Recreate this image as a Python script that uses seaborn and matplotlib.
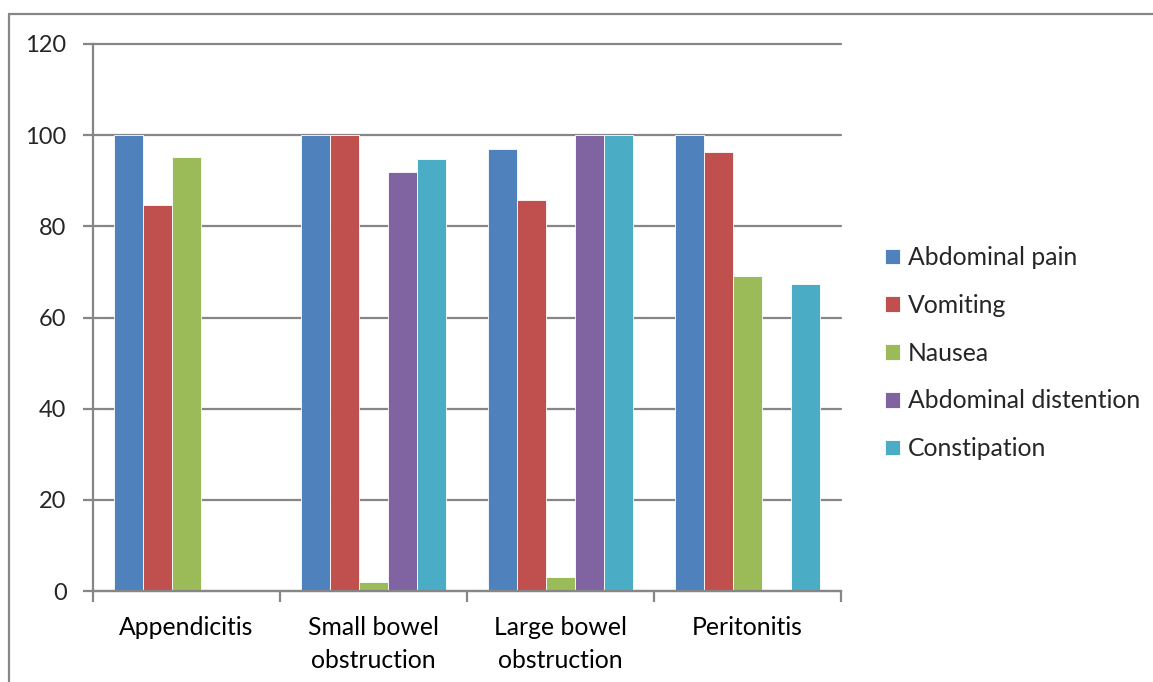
import matplotlib
matplotlib.use("Agg")
import matplotlib.pyplot as plt
from matplotlib.lines import Line2D
import seaborn as sns
import pandas as pd

# Symptom frequency (%) by diagnosis
diagnoses = ["Appendicitis", "Small bowel\nobstruction", "Large bowel\nobstruction", "Peritonitis"]
symptoms = ["Abdominal pain", "Vomiting", "Nausea", "Abdominal distention", "Constipation"]
abdominal_pain = [100, 100, 97, 100]
vomiting = [84.6, 100, 85.7, 96.2]
nausea = [95.3, 2, 3, 69.2]
abdominal_distention = [0, 92, 100, 0]
constipation = [0, 94.8, 100, 67.3]
y_ticks = [0, 20, 40, 60, 80, 100, 120]

palette = ["#4F81BD", "#C0504D", "#9BBB59", "#8064A2", "#4BACC6"]

series = [abdominal_pain, vomiting, nausea, abdominal_distention, constipation]
rows = []
for name, vals in zip(symptoms, series):
    for diag, v in zip(diagnoses, vals):
        rows.append({"Diagnosis": diag, "Symptom": name, "Percent": v})
df = pd.DataFrame(rows)

sns.set_style("white")
plt.rcParams["font.family"] = ["Lato", "DejaVu Sans"]

fig = plt.figure(figsize=(11.53, 6.82), dpi=100)
ax = fig.add_axes([93 / 1153, 1 - 591 / 682, (841 - 93) / 1153, (591 - 44) / 682])

sns.barplot(data=df, x="Diagnosis", y="Percent", hue="Symptom", order=diagnoses,
            hue_order=symptoms, palette=palette, width=0.776, saturation=1,
            edgecolor="white", linewidth=0.6, ax=ax, legend=True)

grid_c = "#868686"
fs = 17.8
ax.set_ylim(0, 120)
ax.set_xlim(-0.5, 3.5)
ax.set_yticks(y_ticks)
ax.set_yticklabels([str(t) for t in y_ticks])
for t in y_ticks:
    ax.axhline(t, color=grid_c, lw=1.6, zorder=0.5, clip_on=False)
ax.set_axisbelow(True)

ax.set_xlabel("")
ax.set_ylabel("")
for s in ["top", "right"]:
    ax.spines[s].set_visible(False)
for s in ["left", "bottom"]:
    ax.spines[s].set_color(grid_c)
    ax.spines[s].set_linewidth(1.6)

ax.tick_params(axis="y", which="major", direction="out", length=7, width=1.6,
               color=grid_c, labelsize=17, pad=12, left=True)
ax.tick_params(axis="x", which="major", length=0, labelsize=fs, pad=18)
ax.set_xticks([-0.5, 0.5, 1.5, 2.5, 3.5], minor=True)
ax.tick_params(axis="x", which="minor", direction="out", length=8, width=1.6,
               color=grid_c, bottom=True)
for lab in ax.get_xticklabels():
    lab.set_linespacing(1.5)
    lab.set_color("black")

handles, labels = ax.get_legend_handles_labels()
ax.legend(handles, labels, loc="upper left", bbox_to_anchor=(863 / 1153, 1 - 224 / 682),
          bbox_transform=fig.transFigure, frameon=False, fontsize=fs,
          handlelength=0.6, handleheight=0.6, handletextpad=0.3, labelspacing=1.0)

# outer frame around the chart area
fig.add_artist(Line2D([9 / 1153, 9 / 1153], [0, 1 - 14 / 682], transform=fig.transFigure,
                      color=grid_c, lw=1.6))
fig.add_artist(Line2D([9 / 1153, 1], [1 - 14 / 682, 1 - 14 / 682], transform=fig.transFigure,
                      color=grid_c, lw=1.6))

fig.savefig("out.png", dpi=100)
